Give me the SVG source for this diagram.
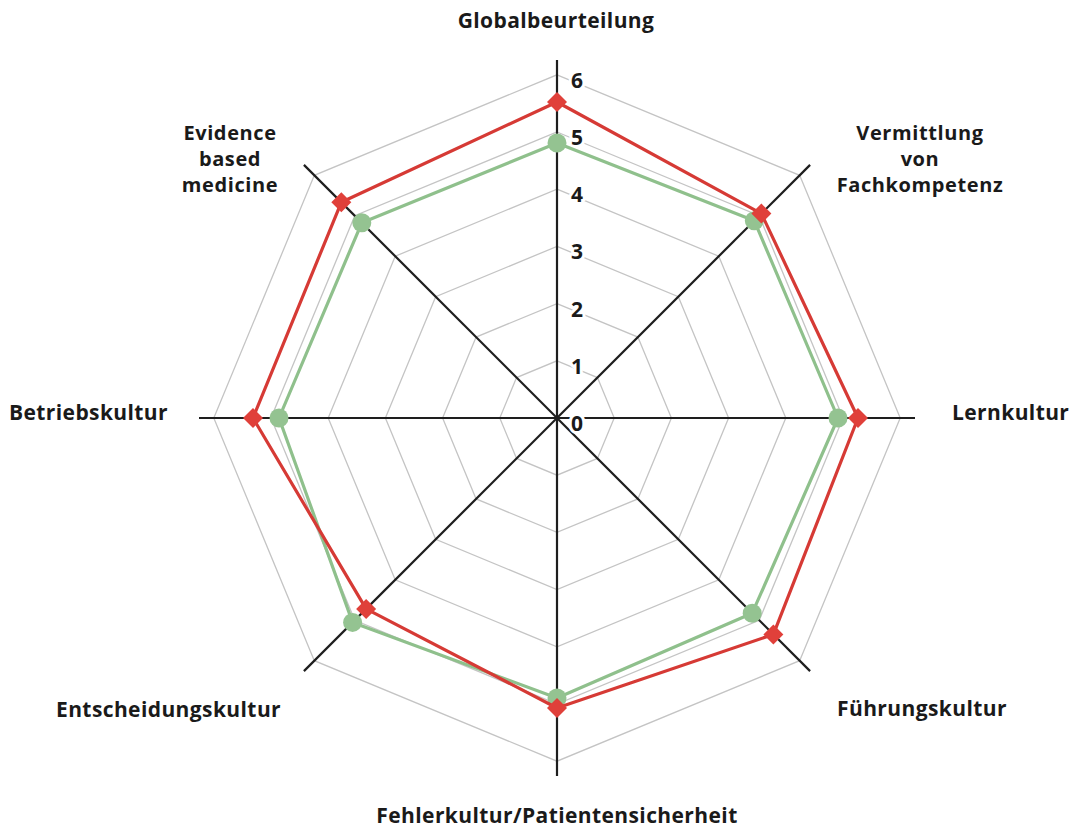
<svg xmlns="http://www.w3.org/2000/svg" width="1074" height="836" viewBox="0 0 1074 836">
<style>
.ring{fill:none;stroke:#c4c4c4;stroke-width:1.3}
.axis{stroke:#1e1e1e;stroke-width:2.2;fill:none}
.lbl{font-family:"Open Sans","Noto Sans","Liberation Sans",sans-serif;font-weight:bold;font-size:21px;letter-spacing:0.4px;fill:#1a1a1a}
.ml{font-size:20px;letter-spacing:0.6px}
.num{font-family:"Open Sans","Noto Sans","Liberation Sans",sans-serif;font-weight:bold;font-size:21px;fill:#1a1a1a;stroke:#fff;stroke-width:6;paint-order:stroke;stroke-linejoin:round}
.red{fill:none;stroke:#d63a35;stroke-width:3.2;stroke-linejoin:round}
.green{fill:none;stroke:#8fc08c;stroke-width:3.2;stroke-linejoin:round}
.rm{fill:#e0403a}
.gm{fill:#94c391}
</style>
<defs>
<polygon id="dia" points="0,-10 10,0 0,10 -10,0"/>
<circle id="dot" r="9.5"/>
</defs>
<rect width="1074" height="836" fill="#fff"/>
<g id="grid">
<polygon class="ring" points="557,360.8 597.45,377.55 614.2,418 597.45,458.45 557,475.2 516.55,458.45 499.8,418 516.55,377.55"/>
<polygon class="ring" points="557,303.6 637.89,337.11 671.4,418 637.89,498.89 557,532.4 476.11,498.89 442.6,418 476.11,337.11"/>
<polygon class="ring" points="557,246.4 678.34,296.66 728.6,418 678.34,539.34 557,589.6 435.66,539.34 385.4,418 435.66,296.66"/>
<polygon class="ring" points="557,189.2 718.79,256.21 785.8,418 718.79,579.79 557,646.8 395.21,579.79 328.2,418 395.21,256.21"/>
<polygon class="ring" points="557,132 759.23,215.77 843,418 759.23,620.23 557,704 354.77,620.23 271,418 354.77,215.77"/>
<polygon class="ring" points="557,74.8 799.68,175.32 900.2,418 799.68,660.68 557,761.2 314.32,660.68 213.8,418 314.32,175.32"/>
</g>
<g id="connectors">
<line class="axis" x1="557" y1="418" x2="557" y2="60"/>
<line class="axis" x1="557" y1="418" x2="810.1" y2="164.9"/>
<line class="axis" x1="557" y1="418" x2="915" y2="418"/>
<line class="axis" x1="557" y1="418" x2="810.1" y2="671.1"/>
<line class="axis" x1="557" y1="418" x2="557" y2="776"/>
<line class="axis" x1="557" y1="418" x2="303.9" y2="671.1"/>
<line class="axis" x1="557" y1="418" x2="199" y2="418"/>
<line class="axis" x1="557" y1="418" x2="303.9" y2="164.9"/>
</g>
<g id="scale">
<text class="num" x="571" y="431">0</text>
<text class="num" x="571" y="373.8">1</text>
<text class="num" x="571" y="316.6">2</text>
<text class="num" x="571" y="259.4">3</text>
<text class="num" x="571" y="202.2">4</text>
<text class="num" x="571" y="145">5</text>
<text class="num" x="571" y="87.8">6</text>
</g>
<g id="series-green">
<polygon class="green" points="557,143 754.3,220.7 838,418 752.2,613.2 557,698 352.6,622.4 279,418 361.8,222.8"/>
<use href="#dot" class="gm" x="557" y="143"/>
<use href="#dot" class="gm" x="754.3" y="220.7"/>
<use href="#dot" class="gm" x="838" y="418"/>
<use href="#dot" class="gm" x="752.2" y="613.2"/>
<use href="#dot" class="gm" x="557" y="698"/>
<use href="#dot" class="gm" x="352.6" y="622.4"/>
<use href="#dot" class="gm" x="279" y="418"/>
<use href="#dot" class="gm" x="361.8" y="222.8"/>
</g>
<g id="series-red">
<polygon class="red" points="557,102 761.4,213.6 858,418 773.4,634.4 557,708 366.1,608.9 253,418 341.3,202.3"/>
<use href="#dia" class="rm" x="557" y="102"/>
<use href="#dia" class="rm" x="761.4" y="213.6"/>
<use href="#dia" class="rm" x="858" y="418"/>
<use href="#dia" class="rm" x="773.4" y="634.4"/>
<use href="#dia" class="rm" x="557" y="708"/>
<use href="#dia" class="rm" x="366.1" y="608.9"/>
<use href="#dia" class="rm" x="253" y="418"/>
<use href="#dia" class="rm" x="341.3" y="202.3"/>
</g>
<g id="node-globalbeurteilung"><text class="lbl" x="556" y="28" text-anchor="middle">Globalbeurteilung</text></g>
<g id="node-vermittlung"><text class="lbl ml" x="920" y="140" text-anchor="middle"><tspan x="920">Vermittlung</tspan><tspan x="920" y="166">von</tspan><tspan x="920" y="192">Fachkompetenz</tspan></text></g>
<g id="node-lernkultur"><text class="lbl" x="952" y="420">Lernkultur</text></g>
<g id="node-fuehrungskultur"><text class="lbl" x="837" y="716">Führungskultur</text></g>
<g id="node-fehlerkultur"><text class="lbl" x="557" y="823" text-anchor="middle">Fehlerkultur/Patientensicherheit</text></g>
<g id="node-entscheidungskultur"><text class="lbl" x="56" y="717">Entscheidungskultur</text></g>
<g id="node-betriebskultur"><text class="lbl" x="9" y="420">Betriebskultur</text></g>
<g id="node-evidence"><text class="lbl ml" x="230" y="140" text-anchor="middle"><tspan x="230">Evidence</tspan><tspan x="230" y="166">based</tspan><tspan x="230" y="192">medicine</tspan></text></g>
</svg>
